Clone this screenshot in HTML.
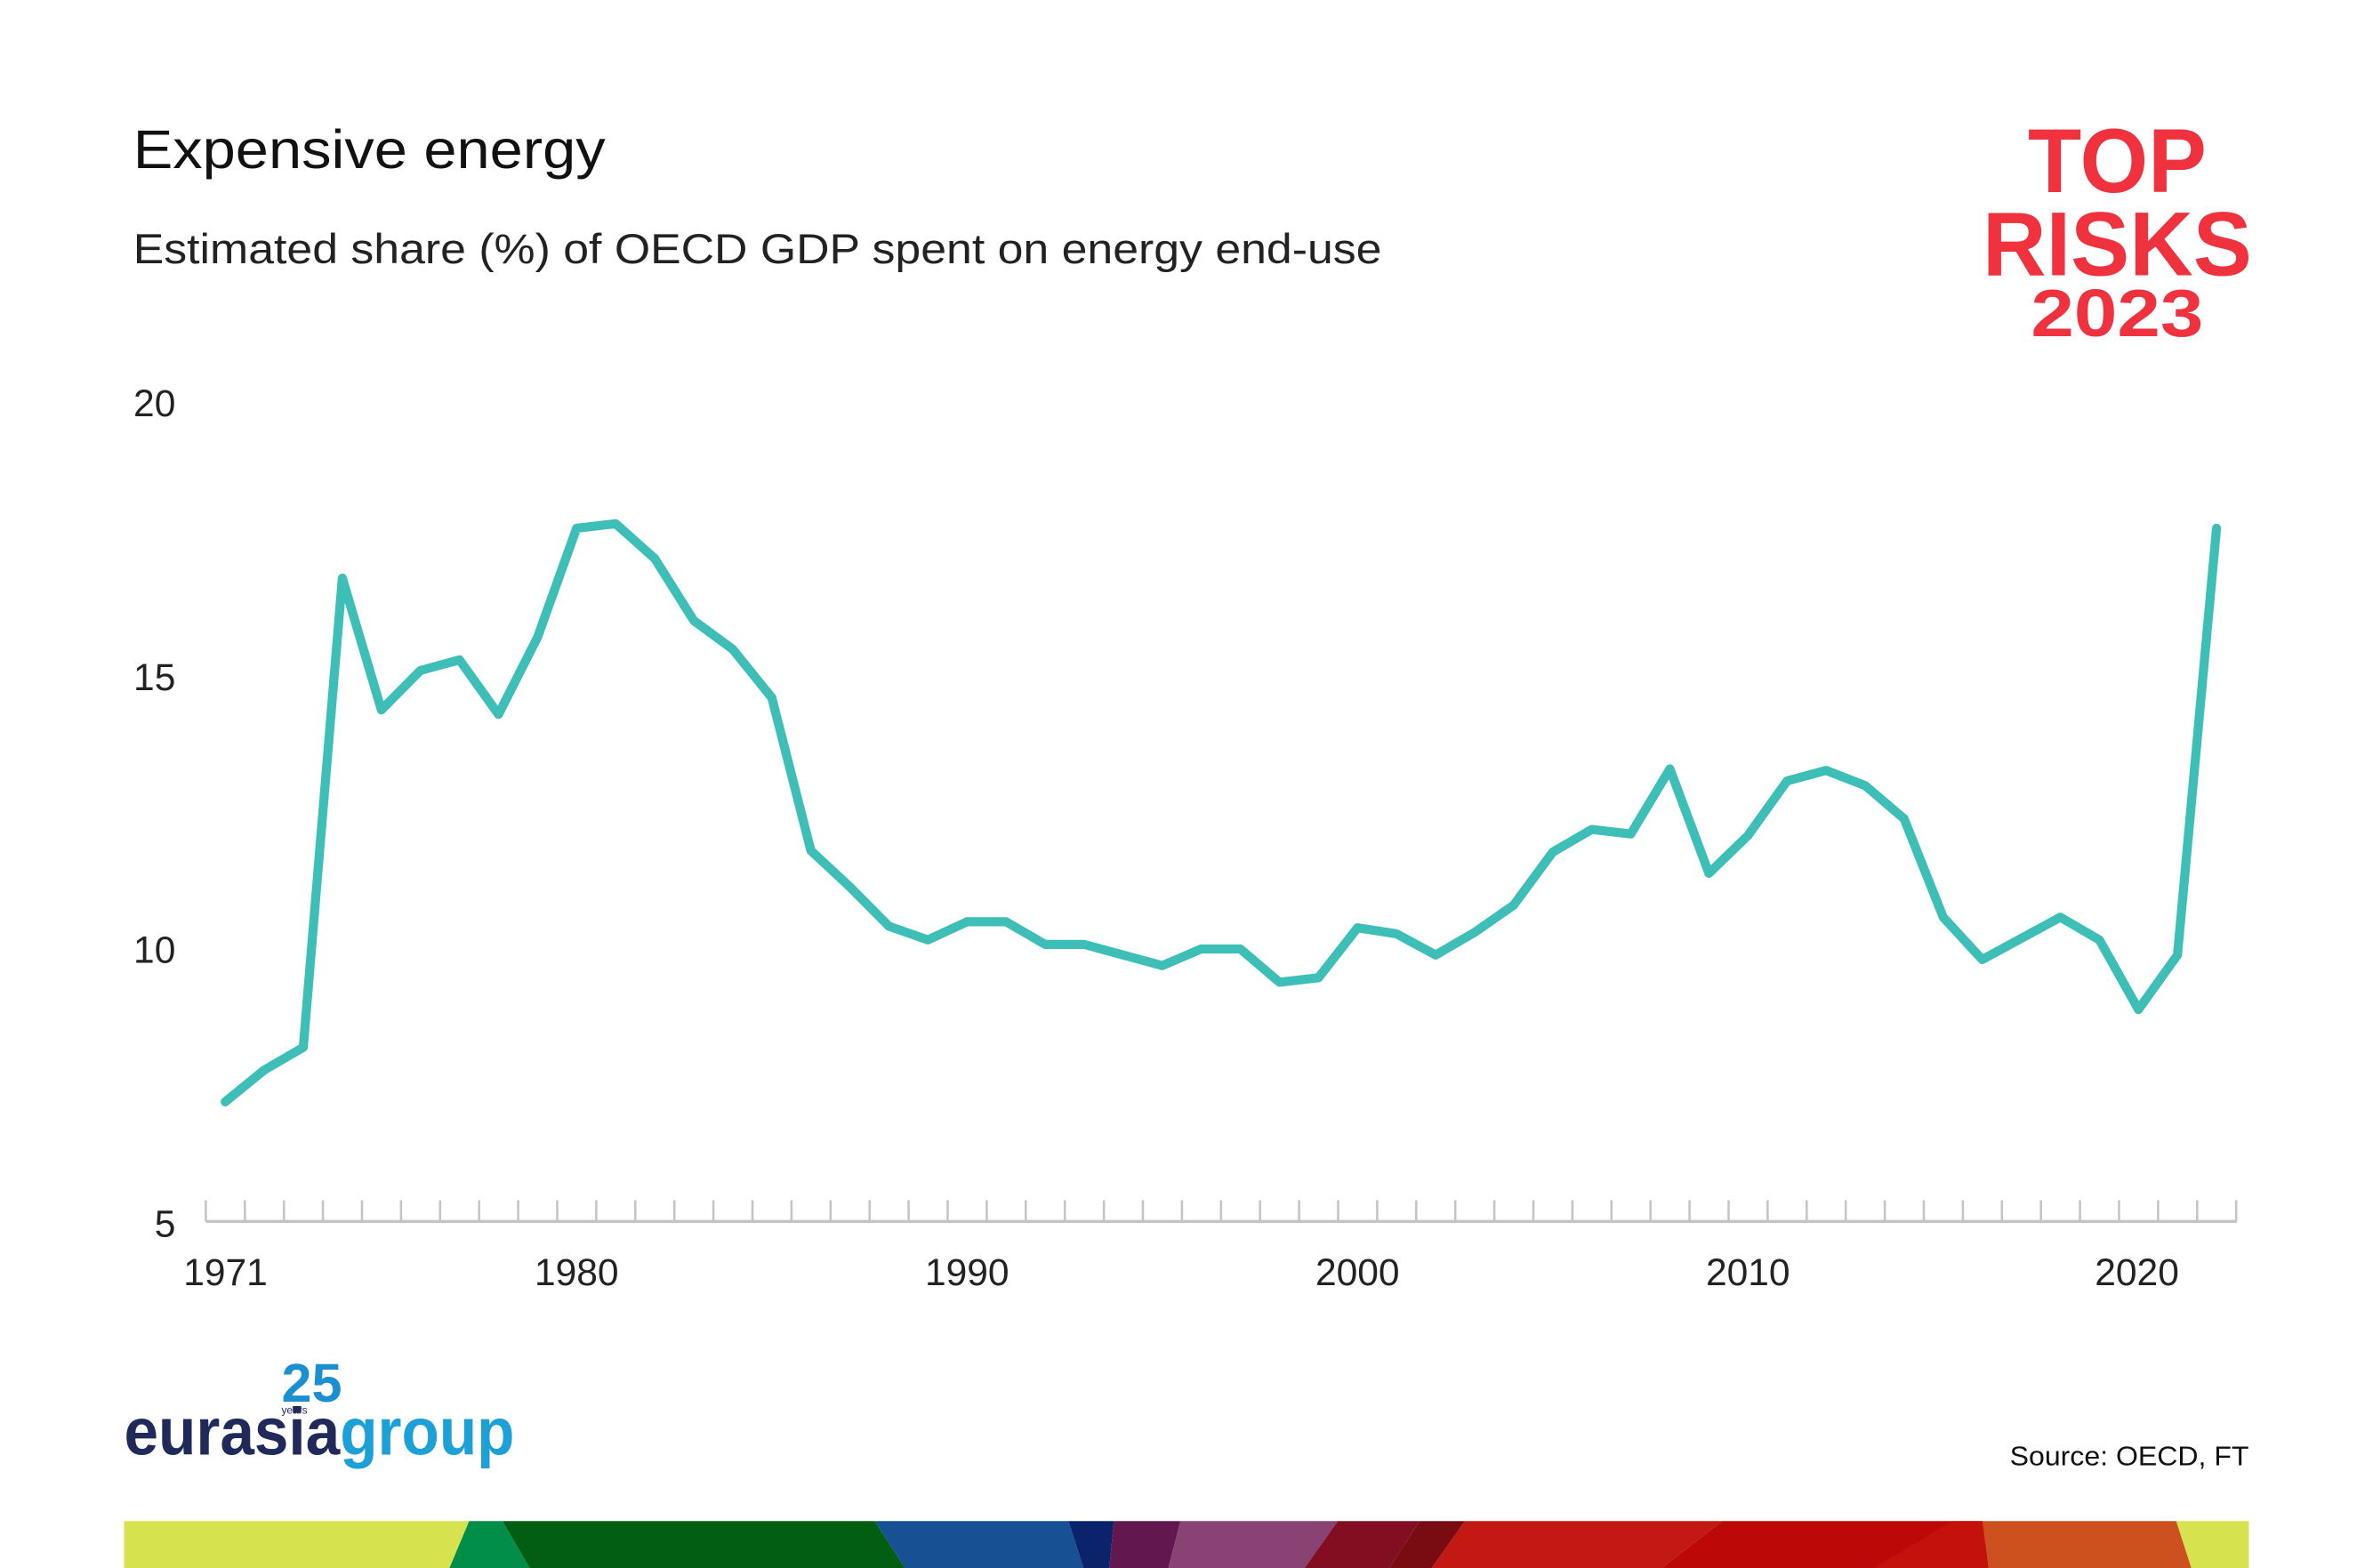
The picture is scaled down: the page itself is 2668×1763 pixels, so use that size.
<!DOCTYPE html>
<html><head><meta charset="utf-8"><style>
html,body{margin:0;padding:0;background:#fff;}
svg{display:block;}
text{font-family:"Liberation Sans",sans-serif;}
</style></head><body>
<svg width="2668" height="1763" viewBox="0 0 1568 1036" preserveAspectRatio="none" xmlns="http://www.w3.org/2000/svg">
<rect width="1568" height="1036" fill="#fff"/>
<text x="88" y="111" font-size="36" fill="#111" textLength="312" lengthAdjust="spacingAndGlyphs">Expensive energy</text>
<text x="88" y="174" font-size="28" fill="#222" textLength="825" lengthAdjust="spacingAndGlyphs">Estimated share (%) of OECD GDP spent on energy end-use</text>
<g fill="#f0323f" font-weight="bold">
<text x="1340" y="127" font-size="60" textLength="118" lengthAdjust="spacingAndGlyphs">TOP</text>
<text x="1310" y="182" font-size="60" textLength="178" lengthAdjust="spacingAndGlyphs">RISKS</text>
<text x="1342" y="222" font-size="44" textLength="114" lengthAdjust="spacingAndGlyphs">2023</text>
</g>
<g font-size="25" fill="#222" text-anchor="end">
<text x="116" y="275">20</text>
<text x="116" y="456">15</text>
<text x="116" y="636">10</text>
<text x="116" y="817">5</text>
</g>
<g font-size="25" fill="#222" text-anchor="middle">
<text x="149" y="849">1971</text>
<text x="381" y="849">1980</text>
<text x="639" y="849">1990</text>
<text x="897" y="849">2000</text>
<text x="1155" y="849">2010</text>
<text x="1412" y="849">2020</text>
</g>
<line x1="136" y1="807" x2="1478" y2="807" stroke="#c4c4c4" stroke-width="2"/>
<path stroke="#c4c4c4" stroke-width="1.5" fill="none" d="M136,793v14M161.8,793v14M187.6,793v14M213.4,793v14M239.2,793v14M265,793v14M290.8,793v14M316.6,793v14M342.4,793v14M368.2,793v14M394,793v14M419.8,793v14M445.6,793v14M471.4,793v14M497.2,793v14M523,793v14M548.8,793v14M574.6,793v14M600.4,793v14M626.2,793v14M652,793v14M677.8,793v14M703.6,793v14M729.4,793v14M755.2,793v14M781,793v14M806.8,793v14M832.6,793v14M858.4,793v14M884.2,793v14M910,793v14M935.8,793v14M961.6,793v14M987.4,793v14M1013.2,793v14M1039,793v14M1064.8,793v14M1090.6,793v14M1116.4,793v14M1142.2,793v14M1168,793v14M1193.8,793v14M1219.6,793v14M1245.4,793v14M1271.2,793v14M1297,793v14M1322.8,793v14M1348.6,793v14M1374.4,793v14M1400.2,793v14M1426,793v14M1451.8,793v14M1477.6,793v14"/>
<path fill="none" stroke="#3dbfb8" stroke-width="6" stroke-linejoin="round" stroke-linecap="round" d="M148.8,728L174.6,707L200.4,692L226.2,382L252,469L277.8,443L303.6,436L329.4,472L355.2,421L381,349L406.8,346L432.6,369L458.4,410L484.2,429L510,461L535.8,562L561.6,586L587.4,612L613.2,621L639,609L664.8,609L690.6,624L716.4,624L742.2,631L768,638L793.8,627L819.6,627L845.4,649L871.2,646L897,613L922.8,617L948.6,631L974.4,616L1000.2,598L1026,563L1051.8,548L1077.6,551L1103.4,508L1129.2,577L1155,552L1180.8,516L1206.6,509L1232.4,519L1258.2,541L1284,606L1309.8,634L1335.6,620L1361.4,606L1387.2,621L1413,667L1438.8,631L1464.6,349"/>
<g>
<polygon points="82,1005 310,1005 297,1036 82,1036" fill="#d6e34f"/>
<polygon points="310,1005 332,1005 350,1036 297,1036" fill="#008e48"/>
<polygon points="332,1005 578,1005 598,1036 350,1036" fill="#025f12"/>
<polygon points="578,1005 706,1005 716,1036 598,1036" fill="#175093"/>
<polygon points="706,1005 736,1005 733,1036 716,1036" fill="#0a236b"/>
<polygon points="736,1005 780,1005 772,1036 733,1036" fill="#62184f"/>
<polygon points="780,1005 884,1005 862,1036 772,1036" fill="#884274"/>
<polygon points="884,1005 938,1005 918,1036 862,1036" fill="#830e21"/>
<polygon points="938,1005 968,1005 946,1036 918,1036" fill="#790c12"/>
<polygon points="968,1005 1138,1005 1098,1036 946,1036" fill="#c21912"/>
<polygon points="1138,1005 1310,1005 1314,1036 1098,1036" fill="#bc0908"/>
<polygon points="1290,1005 1310,1005 1314,1036 1238,1036" fill="#c4110c"/>
<polygon points="1310,1005 1438,1005 1448,1036 1314,1036" fill="#cd511f"/>
<polygon points="1438,1005 1486,1005 1486,1036 1448,1036" fill="#d6e34f"/>
</g>
<text x="186" y="926" font-size="36" font-weight="bold" fill="#1b8fd0" textLength="40" lengthAdjust="spacingAndGlyphs">25</text>
<text x="186" y="934" font-size="7" fill="#1f2a5a">years</text>
<text x="82" y="961" font-size="44" font-weight="bold" textLength="258" lengthAdjust="spacingAndGlyphs"><tspan fill="#1f2a5a">eurasia</tspan><tspan fill="#1ba0d8">group</tspan></text>
<text x="1486" y="968" font-size="18" fill="#111" text-anchor="end" textLength="158" lengthAdjust="spacingAndGlyphs">Source: OECD, FT</text>
</svg>
</body></html>
